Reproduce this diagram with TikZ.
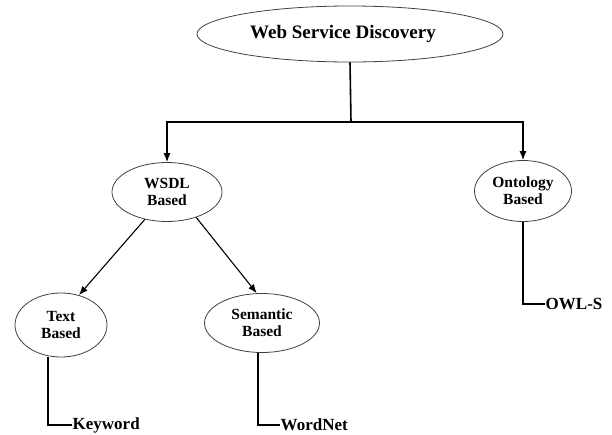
\documentclass[tikz,border=0pt]{standalone}
\usepackage{fontspec}
\setmainfont{Liberation Serif}
\usepackage{tikz}
\usetikzlibrary{shapes.geometric,arrows.meta}

\tikzset{
  oval/.style={ellipse, draw=black!75, line width=0.8pt, inner sep=0pt,
    align=center, font=\fontsize{15.5}{17}\selectfont\bfseries},
  leaf/.style={anchor=west, inner sep=0.5pt, font=\fontsize{17}{19}\selectfont\bfseries},
  link/.style={line width=1.6pt, black},
  arrowlink/.style={line width=1.1pt, black, -{Latex[length=9pt,width=7pt]}}
}

\begin{document}
\begin{tikzpicture}[x=1pt,y=-1pt]
        % Picture frame, same size as the reference
        \useasboundingbox (0,0) rectangle (612,434);

        % Root and the two discovery families
        \node[oval, minimum width=306pt, minimum height=56pt,
              font=\fontsize{19}{21}\selectfont\bfseries] (disc) at (350,34) {Web Service Discovery\hspace*{14pt}};
        \node[oval, minimum width=110pt, minimum height=59pt] (wsdl) at (167,192) {WSDL\\Based};
        \node[oval, minimum width=97pt, minimum height=61pt] (onto) at (523,191) {Ontology\\Based};

        % Second level under WSDL
        \node[oval, minimum width=92pt, minimum height=64pt] (txt) at (61,325) {Text\\Based};
        \node[oval, minimum width=115pt, minimum height=59pt] (sem) at (262,323) {Semantic\\Based};

        % Leaf labels
        \node[leaf] (keyword) at (72,425) {Keyword};
        \node[leaf] (wordnet) at (280,425) {WordNet};
        \node[leaf] (owls) at (545,304) {OWL-S};

        % Branch point below the root
        \coordinate (split) at (351,122);
        \draw[link] (disc.south) -- (split);
        \draw[link] (split) -| ([yshift=12pt]wsdl.north);
        \draw[link] (split) -| ([yshift=12pt]onto.north);
        \draw[arrowlink] ([yshift=13pt]wsdl.north) -- (wsdl.north);
        \draw[arrowlink] ([yshift=13pt]onto.north) -- (onto.north);

        % Diagonal arrows out of WSDL
        \draw[arrowlink] (wsdl.231) -- (txt.59);
        \draw[arrowlink] (wsdl.319) -- (sem.100);

        % Elbow lines to the leaves
        \draw[link] ([xshift=-13pt]txt.south) |- (keyword.west);
        \draw[link] ([xshift=-4pt]sem.south) |- (wordnet.west);
        \draw[link] (onto.south) |- (owls.west);
      \end{tikzpicture}
\end{document}
